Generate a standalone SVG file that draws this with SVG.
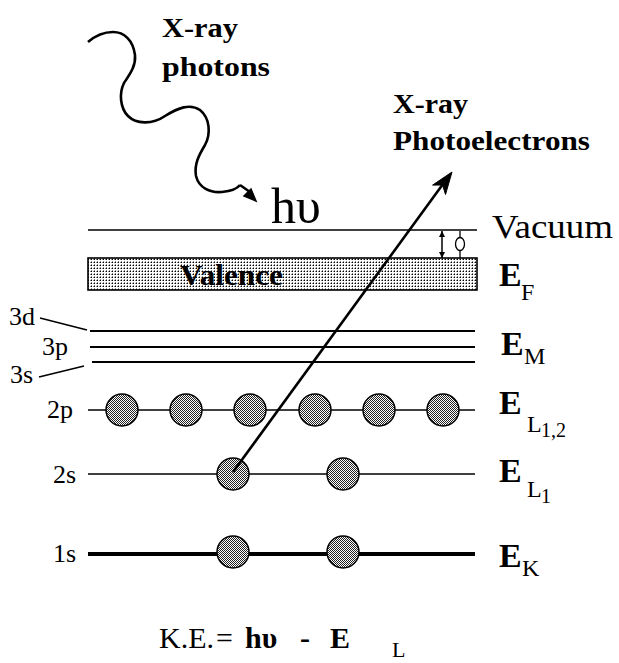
<svg xmlns="http://www.w3.org/2000/svg" width="619" height="663" viewBox="0 0 619 663">
<defs>
<pattern id="band" width="3" height="3" patternUnits="userSpaceOnUse"><rect width="3" height="3" fill="#fff"/><rect x="1" y="1" width="1" height="1" fill="#000"/><rect x="0" y="1" width="1" height="1" fill="#888"/><rect x="1" y="0" width="1" height="1" fill="#888"/></pattern>
<pattern id="dots" width="2" height="2" patternUnits="userSpaceOnUse"><rect width="2" height="2" fill="#fff"/><rect x="0" y="0" width="1" height="1" fill="#222"/><rect x="1" y="1" width="1" height="1" fill="#222"/></pattern>
<marker id="ah" viewBox="0 0 10 10" refX="10" refY="5" markerWidth="6" markerHeight="6" orient="auto-start-reverse" markerUnits="userSpaceOnUse"><path d="M0,0 L10,5 L0,10 Z" fill="#000"/></marker>
</defs>
<style>
text{font-family:"Liberation Serif","DejaVu Serif","Times New Roman",serif;fill:#000}
.b{font-weight:bold}
.lvl{stroke:#000;fill:none}
.e{fill:url(#dots);stroke:#000;stroke-width:1.5}
.lab{font-size:26px}
.big{font-size:34px}
.sub{font-size:24px}
</style>
<rect width="619" height="663" fill="#fff"/>

<g id="photon">
<path d="M88,42 C95,36 103,32 113,32 C124,32 133,40 135,55 C136,66 130,74 124,83 C119,93 120,108 128,116 C136,124 152,125 165,116 C178,108 190,103 200,110 C210,118 211,134 205,145 C199,155 194,164 196,176 C199,188 210,193 222,192 C232,191 237,189 240,185" fill="none" stroke="#000" stroke-width="2.6"/>
<path d="M256,201 L251,189 L244,196 Z" fill="#000" stroke="#000" stroke-width="1.5" stroke-linejoin="miter"/>
<path d="M240,185 L250,192" stroke="#000" stroke-width="2.6"/>
<text class="b" x="162" y="37" font-size="27" textLength="76" lengthAdjust="spacingAndGlyphs">X-ray</text>
<text class="b" x="162" y="76" font-size="27" textLength="108" lengthAdjust="spacingAndGlyphs">photons</text>
<text x="271" y="223" font-size="50">hυ</text>
</g>

<g id="vacuum">
<line class="lvl" x1="88" y1="230" x2="477" y2="230" stroke-width="1.6"/>
<text class="big" x="492" y="238" textLength="121" lengthAdjust="spacingAndGlyphs">Vacuum</text>
</g>

<g id="work-function">
<line x1="442" y1="231" x2="442" y2="258" stroke="#000" stroke-width="1.5" marker-start="url(#ah)" marker-end="url(#ah)"/>
<line x1="460" y1="231" x2="460" y2="258" stroke="#000" stroke-width="1.3"/>
<ellipse cx="460" cy="244" rx="4.5" ry="6.5" fill="#fff" stroke="#000" stroke-width="1.3"/>
</g>

<g id="valence">
<rect x="88" y="258" width="389" height="32" fill="url(#band)" stroke="#000" stroke-width="1.6"/>
<text class="b" x="180" y="285" font-size="30" textLength="103" lengthAdjust="spacingAndGlyphs">Valence</text>
<text class="b big" x="499" y="286">E</text>
<text class="sub" x="521" y="300">F</text>
</g>

<g id="m-shell">
<line class="lvl" x1="90" y1="331" x2="475" y2="331" stroke-width="2"/>
<line class="lvl" x1="90" y1="347" x2="475" y2="347" stroke-width="2"/>
<line class="lvl" x1="92" y1="362" x2="475" y2="362" stroke-width="2"/>
<text class="lab" x="9" y="325">3d</text>
<text class="lab" x="42" y="355">3p</text>
<text class="lab" x="10" y="383">3s</text>
<line x1="40" y1="318" x2="87" y2="330" stroke="#000" stroke-width="1.5"/>
<line x1="39" y1="377" x2="84" y2="366" stroke="#000" stroke-width="1.5"/>
<text class="b big" x="501" y="355">E</text>
<text class="sub" x="524" y="364">M</text>
</g>

<g id="l23-shell">
<line class="lvl" x1="88" y1="410" x2="475" y2="410" stroke-width="1.6"/>
<text class="lab" x="47" y="418">2p</text>
<circle class="e" cx="122" cy="410" r="16"/>
<circle class="e" cx="186" cy="410" r="16"/>
<circle class="e" cx="250" cy="410" r="16"/>
<circle class="e" cx="315" cy="410" r="16"/>
<circle class="e" cx="379" cy="410" r="16"/>
<circle class="e" cx="443" cy="410" r="16"/>
<text class="b big" x="499" y="414">E</text>
<text class="sub" x="527" y="432">L</text>
<text x="541" y="437" font-size="20">1,2</text>
</g>

<g id="l1-shell">
<line class="lvl" x1="88" y1="474" x2="475" y2="474" stroke-width="1.6"/>
<text class="lab" x="53" y="483">2s</text>
<circle class="e" cx="233" cy="474" r="16"/>
<circle class="e" cx="343" cy="474" r="16"/>
<text class="b big" x="499" y="482">E</text>
<text class="sub" x="527" y="497">L</text>
<text x="541" y="503" font-size="20">1</text>
</g>

<g id="k-shell">
<line class="lvl" x1="88" y1="554" x2="475" y2="554" stroke-width="4"/>
<text class="lab" x="53" y="562">1s</text>
<circle class="e" cx="233" cy="552" r="16"/>
<circle class="e" cx="343" cy="552" r="16"/>
<text class="b big" x="499" y="567">E</text>
<text class="sub" x="522" y="576">K</text>
</g>

<g id="connectors">
<line x1="233" y1="472" x2="443" y2="184" stroke="#000" stroke-width="2.6"/>
<path d="M452,172 L445.5,194.5 L442.6,185 L432.6,185.1 Z" fill="#000" stroke="#000" stroke-width="1"/>
</g>

<g id="photoelectron-label">
<text class="b" x="393" y="113" font-size="27" textLength="75" lengthAdjust="spacingAndGlyphs">X-ray</text>
<text class="b" x="393" y="150" font-size="27" textLength="197" lengthAdjust="spacingAndGlyphs">Photoelectrons</text>
</g>

<g id="equation">
<text y="648" font-size="30"><tspan x="159">K.E.</tspan><tspan x="216">=</tspan><tspan x="245" font-weight="bold">hυ</tspan><tspan x="300" font-weight="bold">-</tspan><tspan x="330" font-weight="bold">E</tspan></text>
<text x="392" y="657" font-size="22">L</text>
</g>
</svg>
